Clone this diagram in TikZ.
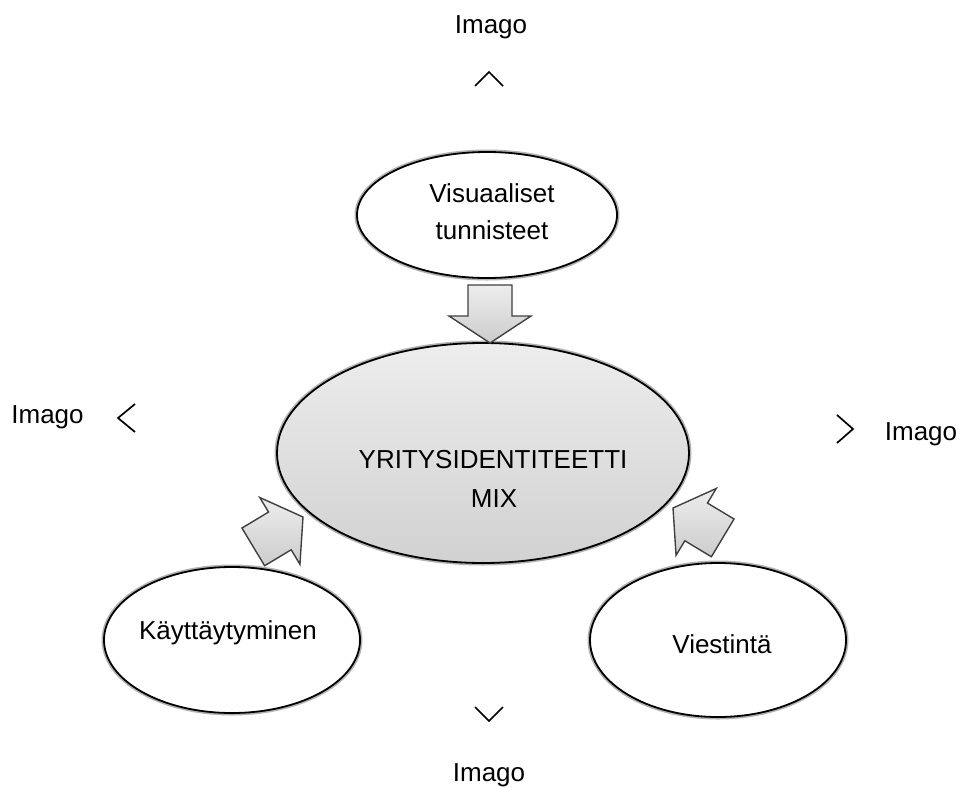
\documentclass[tikz,border=0pt]{standalone}
\usepackage{fontspec}
\setmainfont{Liberation Sans}
\usetikzlibrary{shapes.geometric}
\begin{document}
\begin{tikzpicture}[x=1pt,y=-1pt,
  lbl/.style={font=\fontsize{26}{38}\selectfont, inner sep=0pt, anchor=base, text=black},
  oval/.style={ellipse, draw=black, line width=1.8pt, inner sep=0pt,
               preaction={draw=black!30, line width=5pt}},
  whiteoval/.style={oval, fill=white},
  greyoval/.style={oval, top color=black!7, bottom color=black!18},
  blockarrow/.style={draw=black!75, line width=1.4pt, line join=miter,
               top color=black!7, bottom color=black!20},
  chevron/.style={draw=black, line width=1.7pt}]
\useasboundingbox (0,0) rectangle (960,787);

% ellipses
\node[whiteoval, minimum width=260pt, minimum height=126pt] (vis) at (487,215) {};
\node[greyoval, minimum width=412pt, minimum height=220pt] (mix) at (483,453) {};
\node[whiteoval, minimum width=256pt, minimum height=146pt] (kay) at (232,640) {};
\node[whiteoval, minimum width=256pt, minimum height=154pt] (vie) at (718,640) {};

% texts inside
\node[lbl] (vis1) at (492,202) {Visuaaliset};
\node[lbl] (vis2) at (492,239) {tunnisteet};
\node[lbl] (mix1) at (493,468) {YRITYSIDENTITEETTI};
\node[lbl] (mix2) at (494,507) {MIX};
\node[lbl] (kayt) at (228,639) {Käyttäytyminen};
\node[lbl] (viet) at (722,653) {Viestintä};

% block arrows
\begin{scope}[shift={(490,343)}, rotate=-90]
  \path[blockarrow] (-58,-22) -- (-27,-22) -- (-27,-41) -- (0,0) -- (-27,41) -- (-27,22) -- (-58,22) -- cycle;
\end{scope}
\begin{scope}[shift={(303,517)}, rotate=31]
  \path[blockarrow] (-58,-22) -- (-27,-22) -- (-27,-39) -- (0,0) -- (-27,39) -- (-27,22) -- (-58,22) -- cycle;
\end{scope}
\begin{scope}[shift={(673,508)}, rotate=149]
  \path[blockarrow] (-58,-22) -- (-27,-22) -- (-27,-39) -- (0,0) -- (-27,39) -- (-27,22) -- (-58,22) -- cycle;
\end{scope}

% Imago labels
\node[lbl] (imtop) at (491,33) {Imago};
\node[lbl] (imleft) at (47.5,423) {Imago};
\node[lbl] (imright) at (921,440) {Imago};
\node[lbl] (imbot) at (489,781) {Imago};

% chevrons
\draw[chevron] (475,86) -- (489,72) -- (503,86);
\draw[chevron] (475,707) -- (489,721) -- (503,707);
\draw[chevron] (135,404) -- (118,418) -- (135,432);
\draw[chevron] (837,415) -- (853,429) -- (837,443);
\end{tikzpicture}
\end{document}
